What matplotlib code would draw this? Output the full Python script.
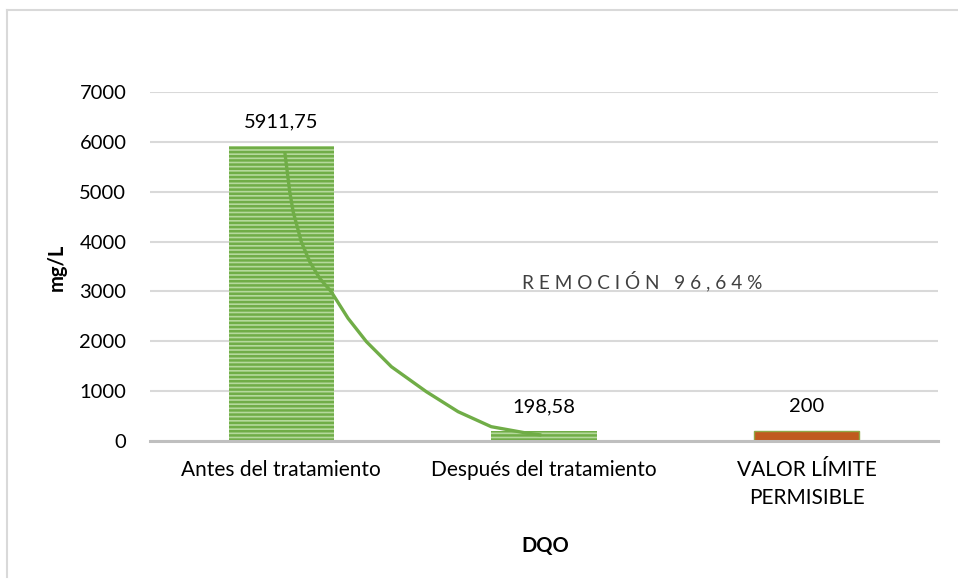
import matplotlib
matplotlib.use("Agg")
import matplotlib.pyplot as plt
from matplotlib.lines import Line2D

plt.rcParams["font.family"] = ["Lato", "DejaVu Sans"]
plt.rcParams["hatch.linewidth"] = 1.8

# datos DQO
categorias = ["Antes del tratamiento", "Después del tratamiento", "VALOR LÍMITE\nPERMISIBLE"]
valores = [5911.75, 198.58, 200]
etiquetas = ["5911,75", "198,58", "200"]

# curva decorativa de remoción (en unidades de categoría / mg/L)
curva_x = [0.013, 0.032, 0.045, 0.076, 0.108, 0.146, 0.190, 0.254,
           0.324, 0.419, 0.552, 0.673, 0.799, 0.939, 0.990]
curva_y = [5802, 5000, 4599, 3997, 3596, 3263, 2994, 2461,
           1992, 1490, 989, 588, 287, 154, 120]
texto_remocion = "R E M O C I Ó N   9 6 , 6 4 %"

fig = plt.figure(figsize=(9.58, 5.79), dpi=100)
ax = fig.add_axes([150 / 958, 1 - 441 / 579, 788 / 958, 349 / 579])

# marco del gráfico
fig.add_artist(Line2D([7 / 958, 7 / 958], [1 - 577 / 579, 1 - 10 / 579],
                      transform=fig.transFigure, color="#D9D9D9", lw=1.5))
fig.add_artist(Line2D([7 / 958, 1.0], [1 - 10 / 579, 1 - 10 / 579],
                      transform=fig.transFigure, color="#D9D9D9", lw=1.5))

x = range(len(categorias))
ax.bar([0, 1], valores[:2], width=0.4, color="#B5D99C", edgecolor="#70AD47",
       hatch="----", linewidth=0, zorder=2)
ax.bar([2], valores[2:], width=0.4, color="#C05A1E", edgecolor="#8FA845",
       linewidth=1, zorder=2)

ax.plot(curva_x, curva_y, color="#70AD47", lw=2.4, solid_capstyle="butt",
        solid_joinstyle="round", zorder=3)

for i, (v, t) in enumerate(zip(valores, etiquetas)):
    ax.annotate(t, (i, v), xytext=(0, 17.5), textcoords="offset points",
                ha="center", va="center", fontsize=14.5, color="black")

ax.text(1.374, 3210, texto_remocion, ha="center", va="center", fontsize=13.7, color="#404040")

ax.set_xlim(-0.5, 2.5)
ax.set_ylim(0, 7000)
ax.set_yticks(range(0, 7001, 1000))
ax.set_xticks(list(x))
ax.set_xticklabels(categorias, fontsize=15, linespacing=1.5)
ax.tick_params(axis="y", length=0, pad=17, labelsize=14.5)
ax.tick_params(axis="x", length=0, pad=14)
ax.yaxis.grid(True, color="#D9D9D9", lw=1.5)
ax.set_axisbelow(True)
for s in ["top", "right", "left"]:
    ax.spines[s].set_visible(False)
ax.spines["bottom"].set_color("#BFBFBF")
ax.spines["bottom"].set_linewidth(2.2)
ax.spines["bottom"].set_zorder(4)

# títulos de ejes
fig.text(57 / 958, 1 - 267 / 579, "mg/L", rotation=90, ha="center", va="center",
         fontsize=14.5, fontweight="bold")
fig.text(545 / 958, 1 - 546 / 579, "DQO", ha="center", va="center",
         fontsize=14.5, fontweight="bold")

fig.savefig("out.png", dpi=100)
